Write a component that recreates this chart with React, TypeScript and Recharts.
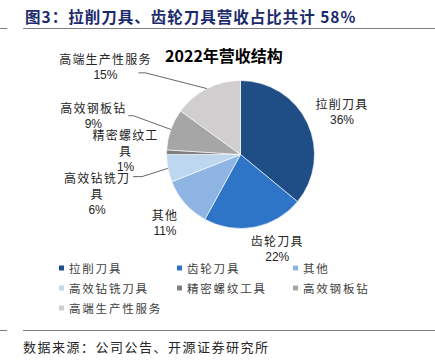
import { PieChart, Pie, Cell } from 'recharts'

const categories = ['拉削刀具', '齿轮刀具', '其他', '高效钻铣刀具', '精密螺纹工具', '高效钢板钻', '高端生产性服务']
const shares = [36, 22, 11, 6, 1, 9, 15]
// how each slice label is wrapped (as in the source picture)
const labelLines = [['拉削刀具'], ['齿轮刀具'], ['其他'], ['高效钻铣刀', '具'], ['精密螺纹工', '具'], ['高效钢板钻'], ['高端生产性服务']]

const colors = ['#1F4E86', '#2E75C8', '#8DB4E2', '#BDD7EE', '#7F7F7F', '#A6A6A6', '#D0CECE']

const data = categories.map((name, i) => ({ name, value: shares[i] }))

const CX = 235.5
const CY = 149.5
const R = 74
const RAD = Math.PI / 180
const cjk = '"Noto Sans CJK SC", sans-serif'

// label placement: radius from centre + nudge, optional leader line (start x offset, elbow x offset)
const labelPos = [
  { r: 110, dx: 2, dy: 4 },
  { r: 100, dx: 18, dy: -4 },
  { r: 102, dx: 1, dy: 1 },
  { r: 146, dx: 0, dy: 12, lead: [36, 45, -13] },
  { r: 115, dx: 0, dy: 0 },
  { r: 150, dx: -6, dy: 12, lead: [35, 40, -4] },
  { r: 150, dx: -67, dy: 46, lead: [33, 40, 2] },
]

function SliceLabel(props: any) {
  const { midAngle, index, cx, cy, outerRadius, percent } = props
  const p = labelPos[index]
  const x = cx + p.r * Math.cos(-midAngle * RAD) + p.dx
  const lines = [...labelLines[index], `${Math.round(percent * 100)}%`]
  const lh = 16.5
  const top = cy + p.r * Math.sin(-midAngle * RAD) + p.dy - ((lines.length - 1) * lh) / 2
  let leader = null
  if (p.lead) {
    const ly = top + lh / 2 + p.lead[2] + 4
    const ex = cx + outerRadius * Math.cos(-midAngle * RAD)
    const ey = cy + outerRadius * Math.sin(-midAngle * RAD)
    leader = (
      <polyline
        points={`${x + p.lead[0]},${ly} ${x + p.lead[1]},${ly} ${ex},${ey}`}
        fill="none"
        stroke="#404040"
        strokeWidth={0.8}
      />
    )
  }
  return (
    <g>
      {leader}
      {lines.map((t, k) => (
        <text
          key={k}
          x={x}
          y={top + k * lh}
          textAnchor="middle"
          dominantBaseline="central"
          fontSize={12}
          letterSpacing={k === lines.length - 1 ? 0 : 1.2}
          fontFamily={k === lines.length - 1 ? 'Arial, "Liberation Sans", sans-serif' : cjk}
          fill="#262626"
        >
          {t}
        </text>
      ))}
    </g>
  )
}

const legendCols = [59, 177, 293]
const legendRows = [268, 288, 308]

export default function App() {
  return (
    <div style={{ position: 'fixed', left: 0, top: 0, width: 435, height: 362, background: '#fff', fontFamily: cjk }}>
      <div style={{ position: 'absolute', left: 25, top: 5, fontSize: 15.5, fontWeight: 700, color: '#1B2A6B', whiteSpace: 'nowrap', letterSpacing: 1 }}>
        图3：拉削刀具、齿轮刀具营收占比共计 58%
      </div>
      <div style={{ position: 'absolute', left: 0, top: 28, width: 7, height: 1, background: '#7f7f7f' }} />
      <div style={{ position: 'absolute', left: 23, top: 28, width: 412, height: 1, background: '#7f7f7f' }} />

      <PieChart width={435} height={362} style={{ position: 'absolute', left: 0, top: 0 }}>
        <text x={224} y={55} textAnchor="middle" dominantBaseline="central" fontSize={16} fontWeight={700} fontFamily={cjk} fill="#000">
          2022年营收结构
        </text>
        <Pie
          data={data}
          dataKey="value"
          nameKey="name"
          cx={CX}
          cy={CY}
          outerRadius={R}
          startAngle={90}
          endAngle={-270}
          stroke="#fff"
          strokeWidth={0.6}
          label={SliceLabel}
          labelLine={false}
          isAnimationActive={false}
        >
          {data.map((d, i) => (
            <Cell key={d.name} fill={colors[i]} />
          ))}
        </Pie>
        {categories.map((c, i) => {
          const x = legendCols[i % 3]
          const y = legendRows[Math.floor(i / 3)]
          return (
            <g key={c}>
              <rect x={x} y={y - 2.5} width={5} height={5} fill={colors[i]} />
              <text x={x + 10} y={y} dominantBaseline="central" fontSize={11.5} letterSpacing={1.8} fontFamily={cjk} fill="#404040">
                {c}
              </text>
            </g>
          )
        })}
      </PieChart>

      <div style={{ position: 'absolute', left: 0, top: 330, width: 7, height: 1, background: '#7f7f7f' }} />
      <div style={{ position: 'absolute', left: 23, top: 330, width: 412, height: 1, background: '#7f7f7f' }} />
      <div style={{ position: 'absolute', left: 23, top: 337, fontSize: 13, color: '#262626', whiteSpace: 'nowrap', letterSpacing: 1.5 }}>
        数据来源：公司公告、开源证券研究所
      </div>
    </div>
  )
}
